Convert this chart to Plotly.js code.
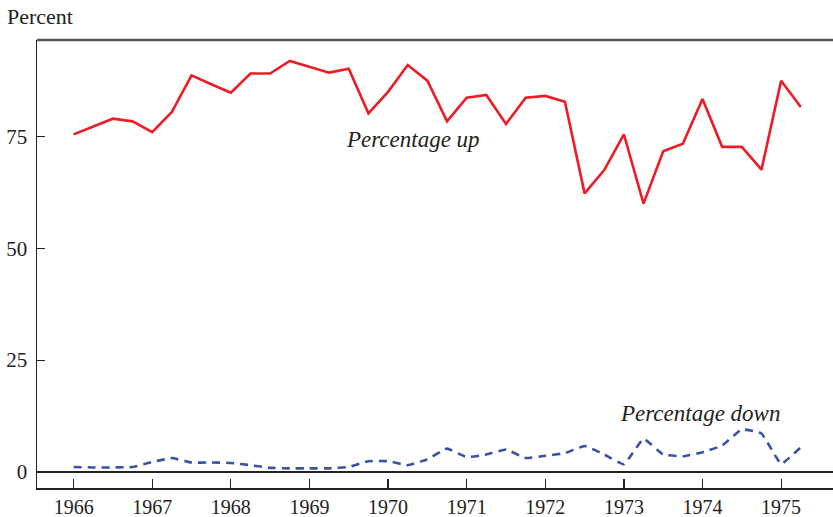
<!DOCTYPE html>
<html>
<head>
<meta charset="utf-8">
<script src="https://cdn.plot.ly/plotly-3.0.1.min.js"></script>
<style>html,body{margin:0;padding:0;background:#fff;}#chart{width:833px;height:517px;}</style>
</head>
<body>
<div id="chart"></div>
<script>
// Quarterly observations, 1966 Q1 through 1975 Q2
const quarters = [
  1966.0, 1966.25, 1966.5, 1966.75,
  1967.0, 1967.25, 1967.5, 1967.75,
  1968.0, 1968.25, 1968.5, 1968.75,
  1969.0, 1969.25, 1969.5, 1969.75,
  1970.0, 1970.25, 1970.5, 1970.75,
  1971.0, 1971.25, 1971.5, 1971.75,
  1972.0, 1972.25, 1972.5, 1972.75,
  1973.0, 1973.25, 1973.5, 1973.75,
  1974.0, 1974.25, 1974.5, 1974.75,
  1975.0, 1975.25
];
const percentageUp = [
  75.5, 77.3, 79.0, 78.4,
  76.0, 80.5, 88.7, 86.7,
  84.8, 89.1, 89.1, 91.9,
  90.6, 89.3, 90.2, 80.2,
  85.0, 91.0, 87.5, 78.4,
  83.7, 84.3, 77.8, 83.7,
  84.1, 82.8, 62.3, 67.5,
  75.5, 60.0, 71.7, 73.4,
  83.4, 72.7, 72.7, 67.6,
  87.5, 81.6
];
const percentageDown = [
  1.1, 1.0, 1.0, 1.1,
  2.2, 3.1, 2.1, 2.1,
  2.0, 1.5, 0.9, 0.8,
  0.8, 0.8, 1.1, 2.4,
  2.4, 1.5, 2.8, 5.2,
  3.3, 3.9, 5.0, 3.1,
  3.6, 4.2, 5.8, 3.9,
  1.7, 7.4, 3.9, 3.5,
  4.4, 5.9, 9.5, 8.6,
  1.8, 5.5
];
const xTickVals = [1966, 1967, 1968, 1969, 1970, 1971, 1972, 1973, 1974, 1975];
const xTickText = ["1966", "1967", "1968", "1969", "1970", "1971", "1972", "1973", "1974", "1975"];
const yTickVals = [0, 25, 50, 75];
const yTickText = ["0", "25", "50", "75"];

const serif = "Liberation Serif, Times New Roman, serif";
const textColor = "#222";

const traces = [
  {x: quarters, y: percentageUp, type: "scatter", mode: "lines",
   line: {color: "#ed1c24", width: 2.6}, hoverinfo: "x+y", name: "Percentage up"},
  {x: quarters, y: percentageDown, type: "scatter", mode: "lines",
   line: {color: "#3953a4", width: 2.6, dash: "8px,6px", shape: "spline", smoothing: 0.3}, hoverinfo: "x+y", name: "Percentage down"}
];

const layout = {
  width: 833, height: 517,
  margin: {l: 37, r: 0, t: 40, b: 29, pad: 0},
  paper_bgcolor: "#fff", plot_bgcolor: "#fff",
  showlegend: false,
  font: {family: serif, size: 20, color: textColor},
  xaxis: {
    range: [1965.534, 1975.66],
    tickvals: xTickVals, ticktext: xTickText,
    ticks: "inside", ticklen: 9, tickwidth: 1.2, tickcolor: "#222",
    showline: true, linecolor: "#222", linewidth: 1.5,
    showgrid: false, zeroline: false,
    tickfont: {family: serif, size: 20, color: textColor},
    fixedrange: true
  },
  yaxis: {
    range: [-3.6, 96.6],
    tickvals: yTickVals, ticktext: yTickText,
    ticks: "inside", ticklen: 8, tickwidth: 1.2, tickcolor: "#222",
    showline: true, linecolor: "#222", linewidth: 1.5,
    showgrid: false, zeroline: true, zerolinecolor: "#222", zerolinewidth: 1.5,
    tickfont: {family: serif, size: 21, color: textColor},
    ticklabelstandoff: 4,
    fixedrange: true
  },
  shapes: [
    {type: "line", xref: "paper", yref: "paper", x0: 0, x1: 1, y0: 1, y1: 1,
     line: {color: "#555", width: 2.5}}
  ],
  annotations: [
    {xref: "paper", yref: "paper", x: -0.04, y: 1.052, xanchor: "left", yanchor: "middle",
     text: "Percent", showarrow: false, font: {family: serif, size: 22, color: textColor}},
    {x: 1970.32, y: 74.4, text: "<i>Percentage up</i>", showarrow: false,
     xanchor: "center", yanchor: "middle", font: {family: serif, size: 23, color: textColor}},
    {x: 1973.967, y: 13.1, text: "<i>Percentage down</i>", showarrow: false,
     xanchor: "center", yanchor: "middle", font: {family: serif, size: 23, color: textColor}}
  ]
};

Plotly.newPlot("chart", traces, layout, {displayModeBar: false, staticPlot: true});
</script>
</body>
</html>
